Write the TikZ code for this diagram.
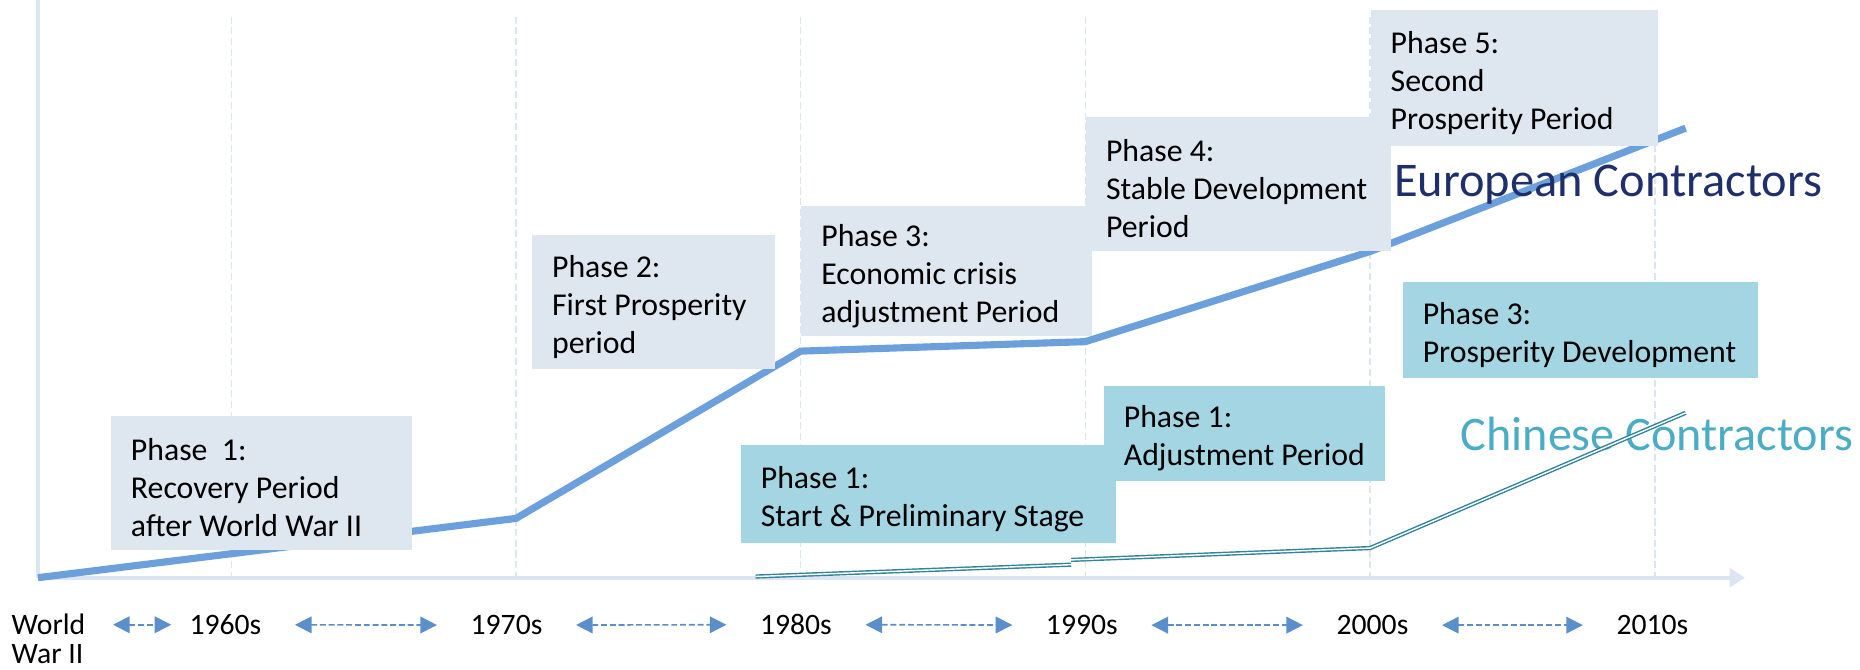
\documentclass[tikz,border=0pt]{standalone}
\usepackage{fontspec}
\setmainfont{Carlito}
\usetikzlibrary{arrows.meta}
\definecolor{eline}{HTML}{6CA0DC}
\definecolor{eboxc}{HTML}{DEE6F0}
\definecolor{cboxc}{HTML}{A3D5E3}
\definecolor{cline}{HTML}{31849B}
\definecolor{ctext}{HTML}{4BACC6}
\definecolor{etext}{HTML}{1F2F6B}
\definecolor{axisc}{HTML}{DCE6F2}
\definecolor{darr}{HTML}{5B8FCB}
\newcommand\boxtop{\rule{0pt}{13.5pt}}
\begin{document}
\begin{tikzpicture}[x=0.5pt,y=-0.5pt,
  phasebox/.style={anchor=north west, inner xsep=8.5pt, inner ysep=0pt, align=flush left,
    font=\fontsize{13.4}{16}\selectfont, text=black},
  ebx/.style={phasebox, fill=eboxc},
  cbx/.style={phasebox, fill=cboxc},
  yearlbl/.style={anchor=base, font=\fontsize{12.5}{12.5}\selectfont, inner xsep=14pt, inner ysep=2pt},
  darrow/.style={darr, line width=0.7pt, dash pattern=on 2.5pt off 1.2pt,
    {Triangle[length=7pt,width=7pt]}-{Triangle[length=7pt,width=7pt]}},
  gridln/.style={axisc, line width=0.6pt, dash pattern=on 3pt off 1.5pt},
  eurline/.style={eline, line width=3pt},
  chnline/.style={cline, line width=0.6pt, double=white, double distance=0.6pt}
]
\useasboundingbox (0,0) rectangle (1568,564);
% axes
\coordinate (O) at (32,487);
\coordinate (yTop) at (32,0);
\coordinate (xEnd) at (1471,487);
\foreach \gx in {195,435,675,915,1155,1395}{
  \draw[gridln] (\gx,14) -- (\gx,487);
}
\draw[axisc, line width=1.3pt] (yTop) -- (O);
\draw[axisc, line width=1.8pt, -{Triangle[length=6.5pt,width=8pt]}] (O) -- (xEnd);

% European line
\coordinate (e0) at (32,487);
\coordinate (e1) at (435,437);
\coordinate (e2) at (675,296);
\coordinate (e3) at (915,288);
\coordinate (e4) at (1155,212);
\coordinate (e5) at (1421,108);
\draw[eurline] (e0) -- (e1) -- (e2) -- (e3) -- (e4) -- (e5);

% boxes
\node[ebx, text width=110pt, minimum height=56.5pt] (E1) at (93,350) {\boxtop\mbox{Phase\ \ 1:}\\\mbox{Recovery Period}\\\mbox{after World War II}};
\node[ebx, text width=85.5pt, minimum height=56.5pt] (E2) at (448,198) {\boxtop\mbox{Phase 2:}\\\mbox{First Prosperity}\\\mbox{period}};
\node[ebx, text width=105.5pt, minimum height=55pt] (E3) at (675,173) {\boxtop\mbox{Phase 3:}\\\mbox{Economic crisis}\\\mbox{adjustment Period}};
\node[ebx, text width=111.5pt, minimum height=56.5pt] (E4) at (915,98) {\boxtop\mbox{Phase 4:}\\\mbox{Stable Development}\\\mbox{Period}};
\node[ebx, text width=104pt, minimum height=57.5pt] (E5) at (1155,8) {\boxtop\mbox{Phase 5:}\\\mbox{Second}\\\mbox{Prosperity Period}};

\node[cbx, text width=133pt, minimum height=40.5pt] (C3) at (1182,237) {\boxtop\mbox{Phase 3:}\\\mbox{Prosperity Development}};
\node[cbx, text width=101.5pt, minimum height=40pt] (C2) at (930,325) {\boxtop\mbox{Phase 1:}\\\mbox{Adjustment Period}};
\node[cbx, text width=141pt, minimum height=41pt] (C1) at (624,375) {\boxtop\mbox{Phase 1:}\\\mbox{Start \& Preliminary Stage}};

% titles
\node[anchor=base west, inner sep=0pt, font=\fontsize{20.4}{24}\selectfont, text=etext] (eur) at (1175,166) {European Contractors};
\node[anchor=base west, inner sep=0pt, font=\fontsize{20.3}{24}\selectfont, text=ctext] (chn) at (1231,380) {Chinese Contractors};

% Chinese line
\coordinate (c0) at (637,486);
\coordinate (c1) at (903,476);
\coordinate (c2) at (903,472);
\coordinate (c3) at (1155,462);
\coordinate (c4) at (1421,348);
\draw[chnline] (c0) -- (c1);
\draw[chnline] (c2) -- (c3) -- (c4);

% time labels
\node[anchor=north west, inner sep=0pt, align=left, font=\fontsize{12.5}{12.2}\selectfont] (ww) at (9.5,517) {World\\War II};
\node[yearlbl] (y60) at (190,535) {1960s};
\node[yearlbl] (y70) at (427,535) {1970s};
\node[yearlbl] (y80) at (671,535) {1980s};
\node[yearlbl] (y90) at (912,535) {1990s};
\node[yearlbl] (y00) at (1157,535) {2000s};
\node[yearlbl] (y10) at (1393,535) {2010s};

\draw[darrow, shorten <=11.5pt, shorten >=-6.5pt] (ww.east |- y60.west) -- (y60.west);
\draw[darrow] (y60) -- (y70);
\draw[darrow] (y70) -- (y80);
\draw[darrow] (y80) -- (y90);
\draw[darrow] (y90) -- (y00);
\draw[darrow] (y00) -- (y10);
\end{tikzpicture}
\end{document}
